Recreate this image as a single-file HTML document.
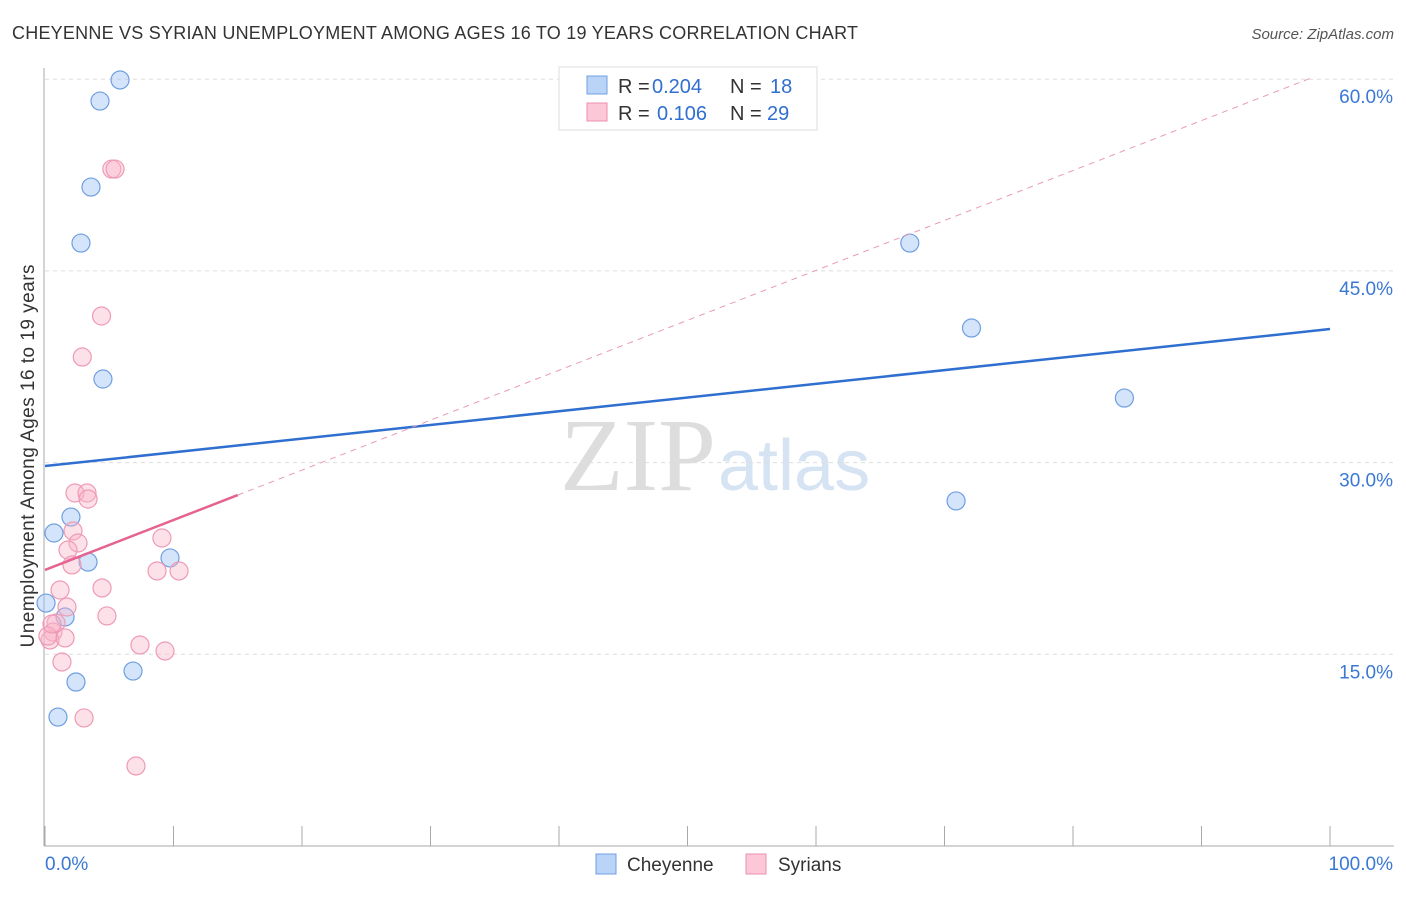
<!DOCTYPE html>
<html><head><meta charset="utf-8"><style>
body{margin:0;background:#fff;font-family:"Liberation Sans",sans-serif}
</style></head><body>
<svg id="c" width="1406" height="892" xmlns="http://www.w3.org/2000/svg" style="font-family:'Liberation Sans',sans-serif">
<text x="12" y="39" font-size="18" fill="#333" textLength="846">CHEYENNE VS SYRIAN UNEMPLOYMENT AMONG AGES 16 TO 19 YEARS CORRELATION CHART</text>
<text x="1394" y="39" font-size="15" fill="#555" font-style="italic" text-anchor="end">Source: ZipAtlas.com</text>
<text x="716" y="490" font-size="104" fill="#ddd" text-anchor="end" font-family="Liberation Serif">ZIP</text>
<text x="718" y="490" font-size="72" fill="#d6e3f3">atlas</text>
<g id="grid"></g><g id="axes"></g><g id="marks"></g>
<text x="34" y="456" font-size="19" fill="#333" text-anchor="middle" textLength="383" transform="rotate(-90 34 456)">Unemployment Among Ages 16 to 19 years</text>
<g>
<rect x="559" y="67" width="258" height="63" fill="#fff" stroke="#ddd"/>
<rect x="587" y="76" width="20" height="18" fill="#b9d4f7" stroke="#6f9fe0"/>
<rect x="587" y="103" width="20" height="18" fill="#fcc8d8" stroke="#ee8fae"/>
<text x="618" y="93" font-size="20" fill="#333">R =</text>
<text x="652" y="93" font-size="20" fill="#2f6fd0">0.204</text>
<text x="730" y="93" font-size="20" fill="#333">N =</text>
<text x="770" y="93" font-size="20" fill="#2f6fd0">18</text>
<text x="618" y="120" font-size="20" fill="#333">R =</text>
<text x="657" y="120" font-size="20" fill="#2f6fd0">0.106</text>
<text x="730" y="120" font-size="20" fill="#333">N =</text>
<text x="767" y="120" font-size="20" fill="#2f6fd0">29</text>
</g>
<g>
<rect x="596" y="854" width="20" height="20" fill="#b9d4f7" stroke="#6f9fe0"/>
<text x="627" y="871" font-size="19" fill="#333">Cheyenne</text>
<rect x="746" y="854" width="20" height="20" fill="#fcc8d8" stroke="#ee8fae"/>
<text x="778" y="871" font-size="19" fill="#333">Syrians</text>
</g>
</svg>
<script>
const yTicks=[15,30,45,60];
const yTickLabels=["15.0%","30.0%","45.0%","60.0%"];
const xTickLabels=["0.0%","100.0%"];
const cheyX=[5.84,4.28,3.58,2.80,4.51,2.02,0.70,3.35,9.73,1.56,0.08,2.41,6.85,1.01,67.3,72.1,84.0,70.9];
const cheyY=[59.94,58.29,51.56,47.18,36.54,25.74,24.49,22.22,22.54,17.92,19.01,12.83,13.69,10.09,47.18,40.53,35.05,27.0];
const syrX=[5.2,5.45,4.4,2.9,2.33,3.27,3.35,2.18,2.57,1.79,2.1,9.1,8.72,10.43,4.44,1.17,4.82,1.71,0.86,0.62,0.39,0.23,1.56,1.32,7.39,9.34,3.04,7.08,0.54];
const syrY=[52.97,52.97,41.47,38.26,27.62,27.62,27.15,24.65,23.71,23.16,21.99,24.1,21.52,21.52,20.19,20.03,18.0,18.7,17.45,16.74,16.12,16.43,16.28,14.4,15.73,15.26,10.02,6.26,17.37];
const blueTrend=[[0,29.73],[100,40.45]];
const pinkTrend=[[0,21.6],[15,27.46]];
const pinkDash=[[15,27.46],[98.8,60.2]];
const X=v=>45+v*12.85, Y=v=>846-v*12.78;
const NS="http://www.w3.org/2000/svg";
function mk(p,t,a){const e=document.createElementNS(NS,t);for(const k in a)e.setAttribute(k,a[k]);document.getElementById(p).appendChild(e);return e;}
yTicks.forEach((t,i)=>{
 const l=mk('grid','line',{x1:45,x2:1394,y1:Y(t),y2:Y(t),stroke:'#ddd','stroke-dasharray':'4,4'});
 
 
 const tx=mk('grid','text',{x:1393,y:Y(t)+24,'font-size':19,fill:'#3a78d4','text-anchor':'end'});
 tx.textContent=yTickLabels[i];
 
 
});
const ax=mk('axes','line',{x1:44,x2:44,y1:68,y2:846,stroke:'#aaa'});


const bx=mk('axes','line',{x1:44,x2:1394,y1:846,y2:846,stroke:'#aaa'});


for(let i=0;i<=10;i++){const t=mk('axes','line',{x1:X(i*10),x2:X(i*10),y1:826,y2:846,stroke:'#aaa'});
 
 }
[[0,'start',45],[100,'end',1393]].forEach((d,i)=>{const t=mk('axes','text',{x:d[2],y:870,'font-size':19,fill:'#3a78d4','text-anchor':d[1]});t.textContent=xTickLabels[i];
 
 });
cheyX.forEach((x,i)=>{const c=mk('marks','circle',{cx:X(x),cy:Y(cheyY[i]),r:9,fill:'rgba(160,196,245,0.45)',stroke:'#6f9fe0','stroke-width':1.2});
 
 });
syrX.forEach((x,i)=>{const c=mk('marks','circle',{cx:X(x),cy:Y(syrY[i]),r:9,fill:'rgba(250,180,200,0.4)',stroke:'#ee9ab6','stroke-width':1.2});
 
 });
const bl=mk('marks','line',{x1:X(blueTrend[0][0]),y1:Y(blueTrend[0][1]),x2:X(blueTrend[1][0]),y2:Y(blueTrend[1][1]),stroke:'#2f6fd0','stroke-width':2.5});


const pl=mk('marks','line',{x1:X(pinkTrend[0][0]),y1:Y(pinkTrend[0][1]),x2:X(pinkTrend[1][0]),y2:Y(pinkTrend[1][1]),stroke:'#e5638f','stroke-width':2.5});


const pd=mk('marks','line',{x1:X(pinkDash[0][0]),y1:Y(pinkDash[0][1]),x2:X(pinkDash[1][0]),y2:Y(pinkDash[1][1]),stroke:'#e99ab4','stroke-width':1,'stroke-dasharray':'6,5'});


</script>
</body></html>
